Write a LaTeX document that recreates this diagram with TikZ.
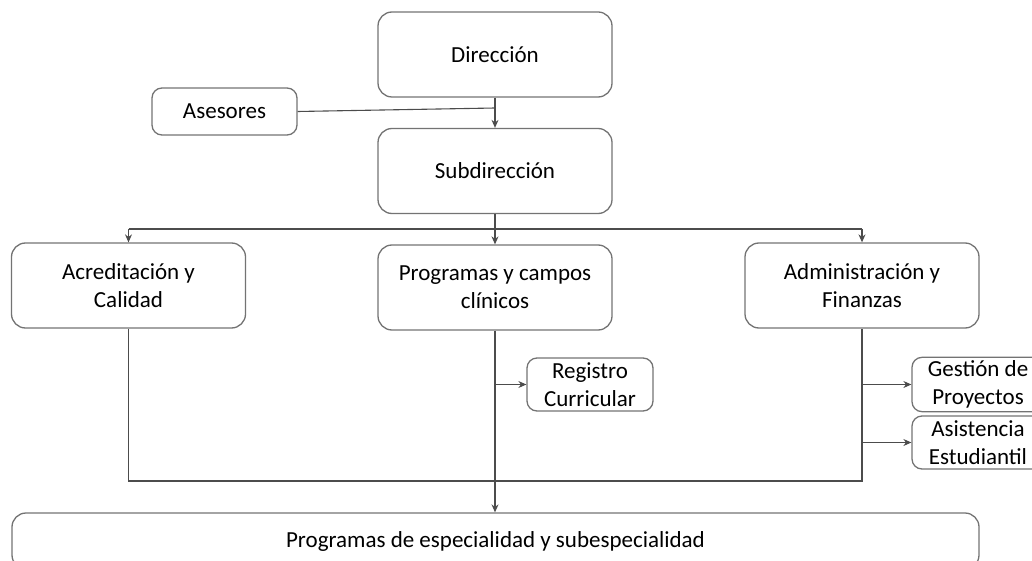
\documentclass[tikz,border=0pt]{standalone}
\usepackage{fontspec}
\setmainfont{Carlito}
\usetikzlibrary{arrows.meta}
\tikzset{
  unidad/.style={draw=black!55, line width=1.3pt, rounded corners=14pt,
    minimum width=234pt, minimum height=85pt, align=center,
    text=black, font=\fontsize{23}{28}\selectfont},
  chica/.style={unidad, rounded corners=10pt, minimum width=132pt, minimum height=53pt},
  enlace/.style={draw=black!70, line width=1.1pt}
}
\begin{document}
\begin{tikzpicture} [x=1pt, y=-1pt, >={Stealth[length=8pt,width=7pt]}]
\useasboundingbox (0,0) rectangle (1032,561);
\node[unidad] (dir) at (495,54.5) {Dirección};
\node[unidad, rounded corners=10pt, minimum width=145pt, minimum height=47pt] (ase) at (224.5,111.5) {Asesores};
\node[unidad] (sub) at (495,171) {Subdirección};
\node[unidad] (acr) at (128.5,285.5) {Acreditación y\\Calidad};
\node[unidad] (prog) at (495,287.5) {Programas y campos\\clínicos};
\node[unidad] (adm) at (862,285.5) {Administración y\\Finanzas};
\node[chica, minimum width=126pt] (reg) at (590,384.5) {Registro\\Curricular};
\node[chica] (ges) at (978,384.5) {Gestión de\\Proyectos};
\node[chica] (asi) at (978,442.5) {Asistencia\\Estudiantil};
\node[unidad, minimum width=967pt, minimum height=56pt] (esp) at (495.5,541) {Programas de especialidad y subespecialidad};
\coordinate (union) at (495,108);
\coordinate (barra) at (495,229);
\coordinate (abajo) at (495,481);
% direccion
\draw[enlace,->] (dir.south) -- (sub.north);
\draw[enlace] (ase.east) -- (union);
% subdireccion a las tres areas
\draw[enlace] (sub.south) -- (barra);
\draw[enlace] (barra -| acr.north) -- (barra -| adm.north);
\draw[enlace,->] (barra -| acr.north) -- (acr.north);
\draw[enlace,->] (barra) -- (prog.north);
\draw[enlace,->] (barra -| adm.north) -- (adm.north);
% ramas inferiores
\draw[enlace] (acr.south) -- (abajo -| acr.south) -- (abajo -| adm.south) -- (adm.south);
\draw[enlace,->] (prog.south) -- (prog.south |- esp.north);
\draw[enlace,->] (prog.south |- reg.west) -- (reg.west);
\draw[enlace,->] (adm.south |- ges.west) -- (ges.west);
\draw[enlace,->] (adm.south |- asi.west) -- (asi.west);
\end{tikzpicture}
\end{document}
